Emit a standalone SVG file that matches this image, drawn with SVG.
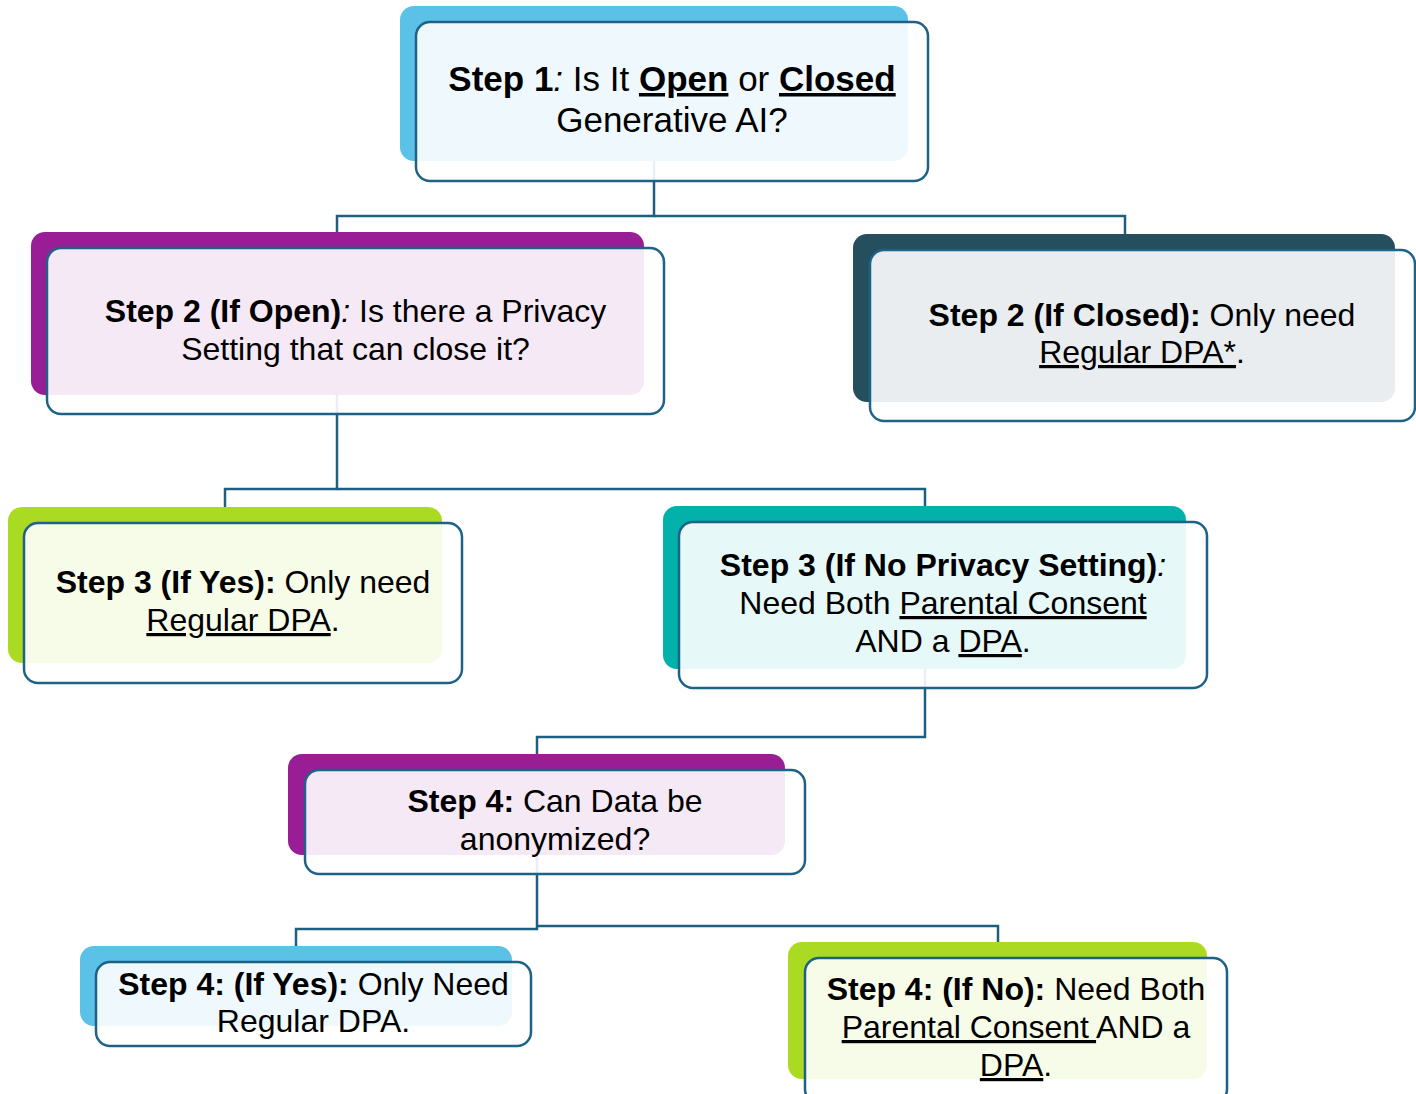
<svg xmlns="http://www.w3.org/2000/svg" width="1416" height="1094" viewBox="0 0 1416 1094">
<style>
  .front { fill: #ffffff; fill-opacity: 0.9; stroke: #1E6287; stroke-width: 2.5; }
  .conn { fill: none; stroke: #1E5F80; stroke-width: 2.5; }
  text { font-family: "Liberation Sans", Arial, sans-serif; font-size: 32px; fill: #000000; text-anchor: middle; }
  .big { font-size: 35px; }
  .b { font-weight: bold; }
  .u { text-decoration: underline; }
  .i { font-style: italic; }
</style>
<rect width="1416" height="1094" fill="#ffffff"/>
<g id="connectors">
  <polyline class="conn" points="654,161 654,216 337,216 337,232"/>
  <polyline class="conn" points="654,216 1125,216 1125,234"/>
  <polyline class="conn" points="337,395 337,489 225,489 225,507"/>
  <polyline class="conn" points="337,489 925,489 925,506"/>
  <polyline class="conn" points="925,669 925,737 537,737 537,754"/>
  <polyline class="conn" points="537,855 537,929 296,929 296,946"/>
  <polyline class="conn" points="537,926 998,926 998,942"/>
</g>
<g id="step1">
  <rect x="400" y="6" width="508" height="155" rx="14" fill="#5BC1E6"/>
  <rect class="front" x="416" y="22" width="512" height="159" rx="14"/>
  <text class="big" x="672" y="91"><tspan class="b">Step 1</tspan><tspan class="i">:</tspan> Is It <tspan class="b u">Open</tspan> or <tspan class="b u">Closed</tspan></text>
  <text class="big" x="672" y="132">Generative AI?</text>
</g>
<g id="step2-open">
  <rect x="31" y="232" width="613" height="163" rx="14" fill="#991E96"/>
  <rect class="front" x="47" y="248" width="617" height="166" rx="14"/>
  <text x="355.5" y="322"><tspan class="b">Step 2 (If Open)</tspan><tspan class="i">:</tspan> Is there a Privacy</text>
  <text x="355.5" y="360">Setting that can close it?</text>
</g>
<g id="step2-closed">
  <rect x="853" y="234" width="542" height="168" rx="14" fill="#254E5E"/>
  <rect class="front" x="870" y="250" width="545" height="171" rx="14"/>
  <text x="1142" y="326"><tspan class="b">Step 2 (If Closed):</tspan> Only need</text>
  <text x="1142" y="363"><tspan class="u">Regular DPA*</tspan>.</text>
</g>
<g id="step3-yes">
  <rect x="8" y="507" width="434" height="156" rx="14" fill="#ABDA22"/>
  <rect class="front" x="24" y="523" width="438" height="160" rx="14"/>
  <text x="243" y="593"><tspan class="b">Step 3 (If Yes):</tspan> Only need</text>
  <text x="243" y="631"><tspan class="u">Regular DPA</tspan>.</text>
</g>
<g id="step3-no">
  <rect x="663" y="506" width="523" height="163" rx="14" fill="#02B2AA"/>
  <rect class="front" x="679" y="522" width="528" height="166" rx="14"/>
  <text x="943" y="576"><tspan class="b">Step 3 (If No Privacy Setting)</tspan><tspan class="i">:</tspan></text>
  <text x="943" y="614">Need Both <tspan class="u">Parental Consent</tspan></text>
  <text x="943" y="652">AND a <tspan class="u">DPA</tspan>.</text>
</g>
<g id="step4">
  <rect x="288" y="754" width="497" height="101" rx="14" fill="#991E96"/>
  <rect class="front" x="305" y="770" width="500" height="104" rx="14"/>
  <text x="555" y="812"><tspan class="b">Step 4:</tspan> Can Data be</text>
  <text x="555" y="850">anonymized?</text>
</g>
<g id="step4-yes">
  <rect x="80" y="946" width="432" height="80" rx="14" fill="#5BC1E6"/>
  <rect class="front" x="96" y="962" width="435" height="84" rx="14"/>
  <text x="313.5" y="995"><tspan class="b">Step 4: (If Yes):</tspan> Only Need</text>
  <text x="313.5" y="1032">Regular DPA.</text>
</g>
<g id="step4-no">
  <rect x="788" y="942" width="419" height="137" rx="14" fill="#ABDA22"/>
  <rect class="front" x="805" y="958" width="422" height="145" rx="14"/>
  <text x="1016" y="1000"><tspan class="b">Step 4: (If No):</tspan> Need Both</text>
  <text x="1016" y="1038"><tspan class="u">Parental Consent </tspan>AND a</text>
  <text x="1016" y="1076"><tspan class="u">DPA</tspan>.</text>
</g>
</svg>
